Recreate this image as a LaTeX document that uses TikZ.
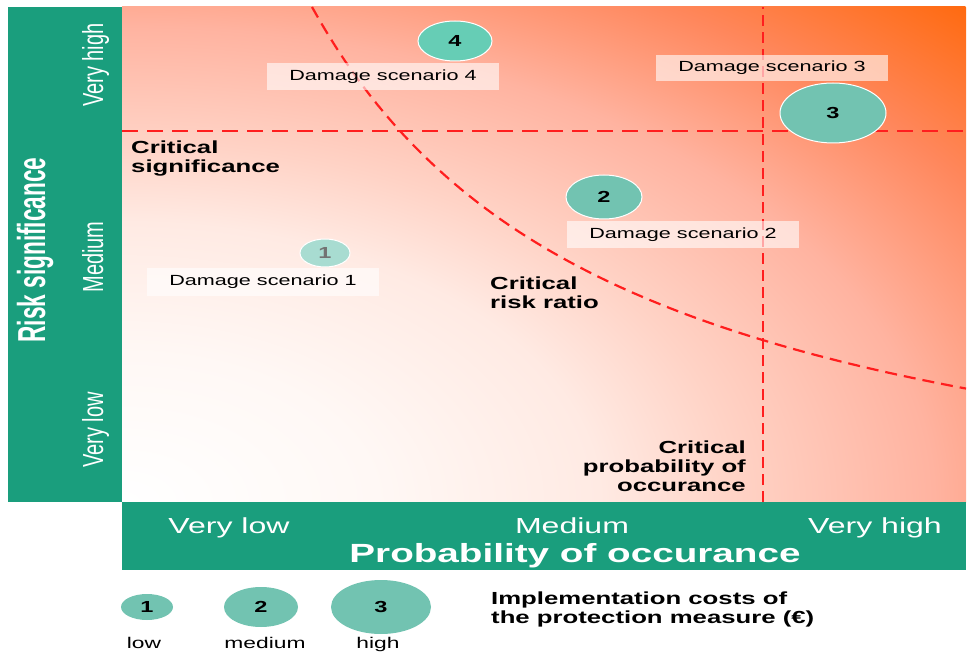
\documentclass[tikz,border=0pt]{standalone}
\usepackage{fontspec}
\setmainfont{Liberation Sans}
\usepackage{graphicx}
\usetikzlibrary{shapes.geometric,positioning}

\definecolor{bargreen}{HTML}{1A9E7D}
\definecolor{bubgreen}{HTML}{72C3B1}
\definecolor{bubbright}{HTML}{66CDB5}
\definecolor{bubpale}{HTML}{A8DCD1}
\definecolor{critred}{HTML}{FF1E1E}
\definecolor{hotorange}{HTML}{FF6A10}
\definecolor{glowA}{HTML}{FFF8F5}
\definecolor{glowB}{HTML}{FFEAE3}
\definecolor{glowC}{HTML}{FFD3C6}
\definecolor{salmon}{HTML}{FFB3A0}
\definecolor{glowD}{HTML}{FF875C}

\pgfdeclareradialshading{riskglow}{\pgfpoint{0bp}{0bp}}{color(0bp)=(white); color(5.3bp)=(glowA); color(10bp)=(glowB); color(12.8bp)=(glowC); color(17bp)=(salmon); color(21bp)=(glowD); color(25bp)=(hotorange); color(50bp)=(hotorange)}

\newcommand{\trk}[3]{\fontsize{#1}{#2}\selectfont\addfontfeatures{FakeStretch=#3}}
\newcommand{\narrow}[2][0.69]{\scalebox{#1}[1]{#2}}

\begin{document}
\begin{tikzpicture}[x=1pt,y=1pt,
	bar/.style={fill=bargreen,draw=none},
	crit/.style={draw=critred,line width=2.6pt},
	bubble/.style={ellipse,fill=bubgreen,draw=white,line width=1pt,inner sep=0pt,font=\bfseries\trk{16}{16}{1.47}},
	tag/.style={fill=white,fill opacity=0.6,text opacity=1,minimum width=232pt,minimum height=27pt,inner sep=0pt,font=\trk{14.7}{15}{1.47}},
	note/.style={inner sep=0pt,align=left,font=\bfseries\trk{17.5}{19}{1.47}},
	ylevel/.style={rotate=90,text=white,inner sep=0pt,text height=21pt,text depth=6pt,font=\trk{29}{29}{1}},
	xlevel/.style={anchor=base,text=white,inner sep=0pt,font=\trk{21.8}{22}{1.47}},
	caption/.style={anchor=base,inner sep=0pt,font=\trk{15.5}{16}{1.47}}]

	\useasboundingbox (0,0) rectangle (968,654);

	\begin{scope}
		\clip (122,152) rectangle (966,647);
		\shade[shading=riskglow] (122,152) ellipse [x radius=1194, y radius=700];
	\end{scope}
	\fill[bar] (8,152) rectangle (122,647);
	\fill[bar] (122,84) rectangle (966,152);

	\coordinate (sigL) at (122,523);
	\coordinate (sigR) at (966,523);
	\coordinate (probB) at (763,152);
	\coordinate (probT) at (763,647);

	\draw[crit,dash pattern=on 16pt off 9pt] (sigL) -- (sigR);
	\draw[crit,dash pattern=on 11pt off 6pt] (probB) -- (probT);
	\draw[crit,line width=2.2pt,dash pattern=on 12pt off 7pt] plot[domain=31.2:96.6,samples=80] ({10*\x},{10*(8.34+1758.4/\x)});

	\node[bubble,fill=bubbright,minimum width=74pt,minimum height=40pt] (b4) at (455,613) {4};
	\node[bubble,minimum width=106pt,minimum height=60pt] (b3) at (833,541) {3};
	\node[bubble,minimum width=76pt,minimum height=44pt] (b2) at (604,457) {2};
	\node[bubble,fill=bubpale,text=black!55,minimum width=50pt,minimum height=28pt] (b1) at (325,401) {1};

	\node[tag] (ds4) at (383,577) {Damage scenario 4};
	\node[tag,minimum height=26pt] (ds3) at (772,586) {Damage scenario 3};
	\node[tag] (ds2) at (683,419) {Damage scenario 2};
	\node[tag,minimum height=28pt] (ds1) at (263,372) {Damage scenario 1};

	\node[note,anchor=north west] (critsig) at (131,513) {Critical\\significance};
	\node[note,anchor=north west] (critrisk) at (490,377) {Critical\\risk ratio};
	\node[note,anchor=north east,align=right] (critprob) at (746,213) {Critical\\probability of\\occurance};

	\node[ylevel] (yhigh) at (95.5,589) {\narrow{Very high}};
	\node[ylevel] (ymed) at (95.5,397) {\narrow{Medium}};
	\node[ylevel] (ylow) at (95.5,224) {\narrow{Very low}};
	\node[rotate=90,text=white,inner sep=0pt,text height=28pt,text depth=8pt,font=\bfseries\trk{39}{39}{1}] (ytitle) at (35,404) {\narrow[0.58]{Risk significance}};

	\node[xlevel] (xlow) at (229,121) {Very low};
	\node[xlevel] (xmed) at (572,121) {Medium};
	\node[xlevel] (xhigh) at (875,121) {Very high};
	\node[xlevel,font=\bfseries\trk{26.3}{27}{1.47}] (xtitle) at (575,92) {Probability of occurance};

	\node[bubble,draw=none,minimum width=52pt,minimum height=26pt] (lg1) at (147,47) {1};
	\node[bubble,draw=none,minimum width=74pt,minimum height=40pt] (lg2) at (261,47) {2};
	\node[bubble,draw=none,minimum width=100pt,minimum height=54pt] (lg3) at (381,47) {3};
	\node[caption] (lglow) at (144,6) {low};
	\node[caption] (lgmed) at (265,6) {medium};
	\node[caption] (lghigh) at (378,6) {high};

	\node[note,anchor=north west] (costs) at (491,62) {Implementation costs of\\the protection measure (€)};
\end{tikzpicture}
\end{document}
